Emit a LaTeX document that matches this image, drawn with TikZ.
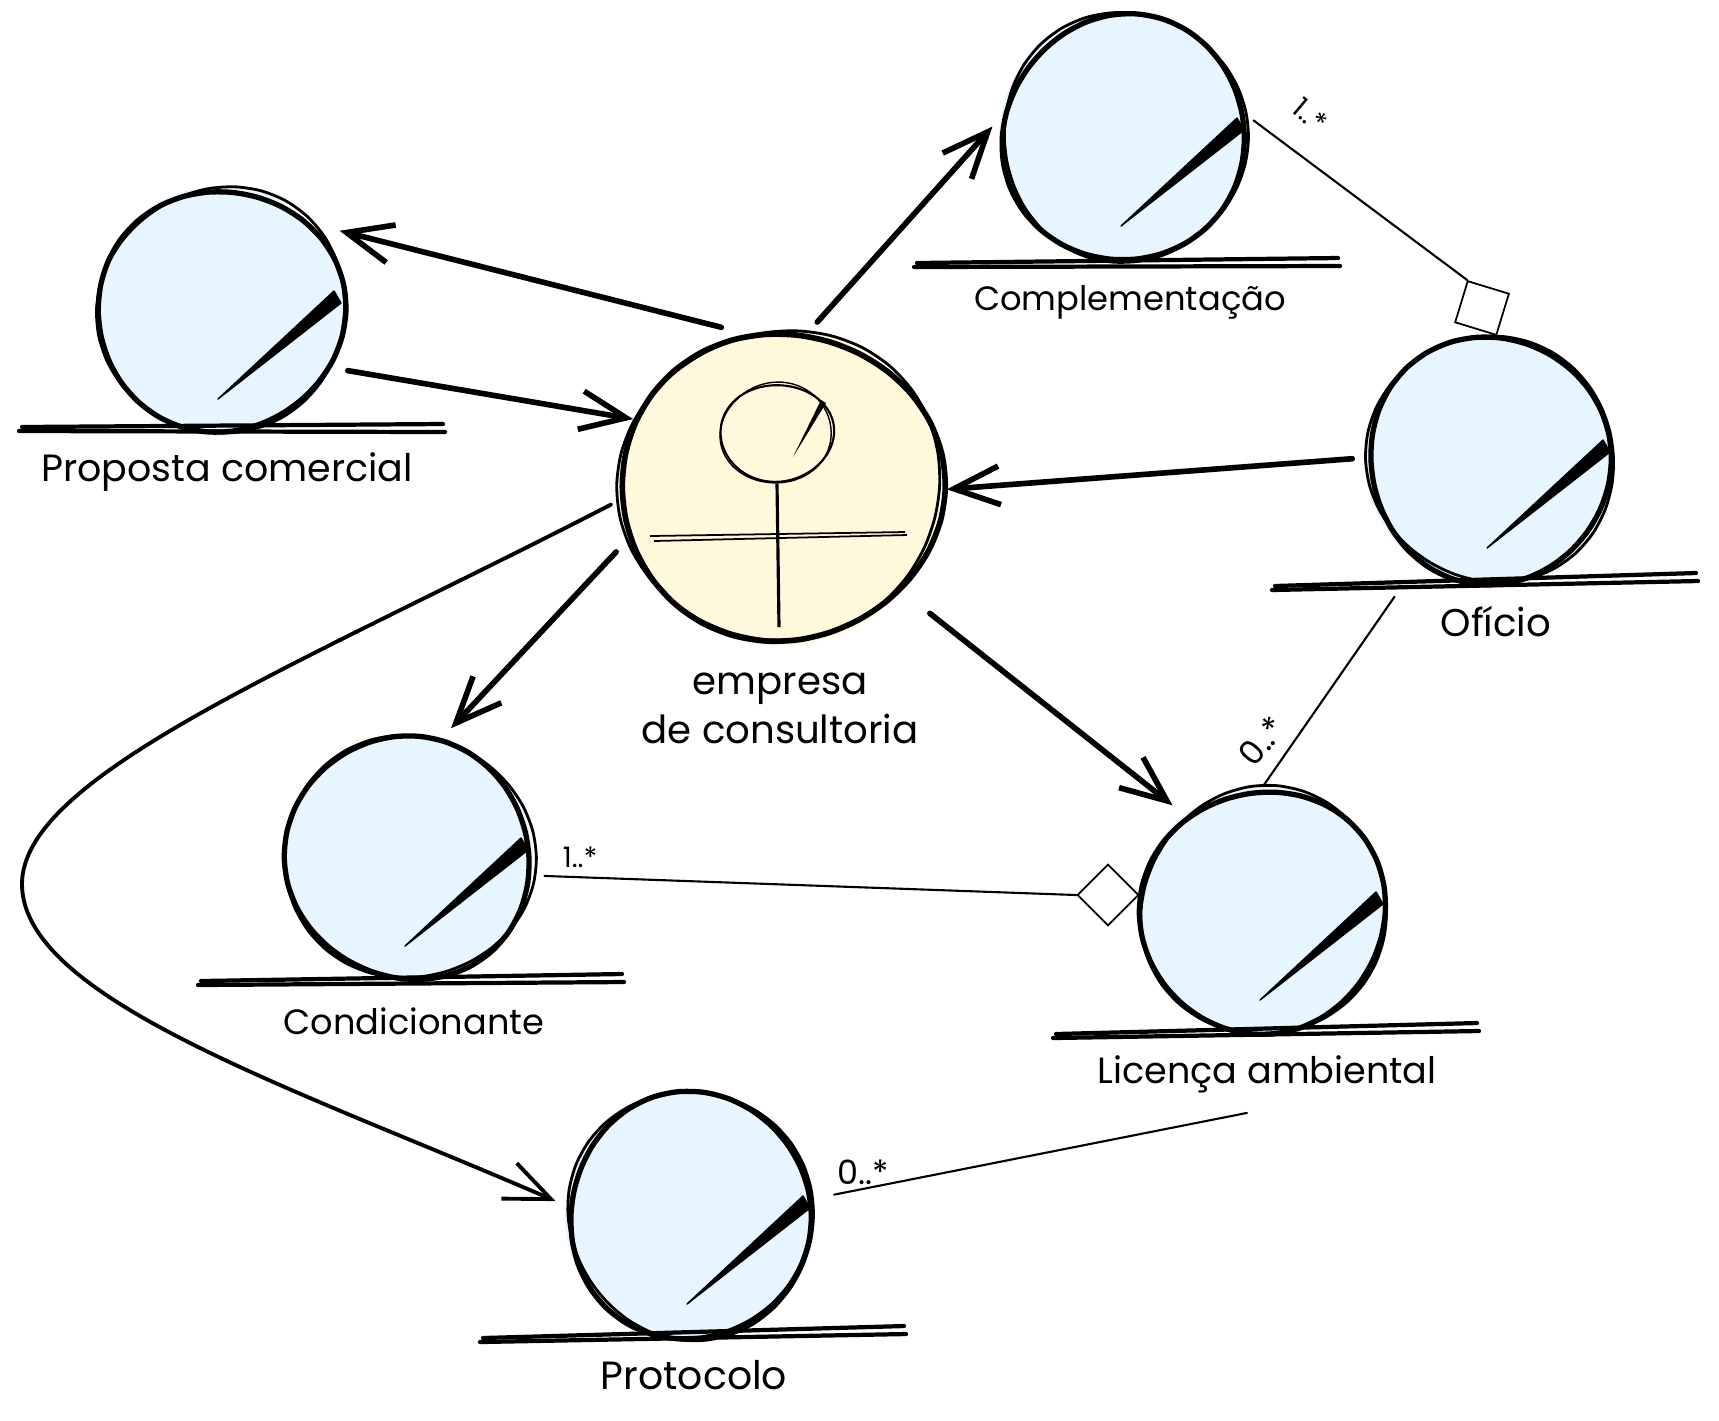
\documentclass[tikz,border=0pt]{standalone}
\usepackage{fontspec}
\setmainfont{Poppins}
\usepackage{tikz}
\usetikzlibrary{arrows.meta}
\definecolor{entityblue}{HTML}{E7F5FF}
\definecolor{actoryellow}{HTML}{FFF9DB}
\tikzset{entitycircle/.style={circle,fill=entityblue,inner sep=0,minimum size=2.5cm},
    actorcircle/.style={circle,fill=actoryellow,inner sep=0,minimum size=3.16cm},
    flow/.style={-{Straight Barb[length=13pt,width=11pt]},line width=1.6pt,line cap=round,line join=round},
    association/.style={line width=0.6pt,line cap=round},
    aggregate/.style={draw,fill=white,rectangle,inner sep=0,minimum size=0.43cm,line width=0.5pt},
    entitylabel/.style={font=\fontsize{#1}{14}\selectfont,align=center,inner sep=1pt},
    multiplicity/.style={font=\fontsize{#1}{10}\selectfont,inner sep=0}
}
\newcommand{\sketchring}[6]
{
% args: (x, y, x radius, y radius, phase, line width)
    \draw [line width=#6] plot [smooth cycle,samples=30,domain=0:348]
        ({#1+#3*(1+0.016*cos(2*\x+(#5))+0.012*cos(3*\x+2*(#5)))*cos(\x)},
         {#2+#4*(1+0.016*cos(2*\x+(#5))+0.012*cos(3*\x+2*(#5)))*sin(\x)});
}
\newcommand{\entityobject}[7]
{
% args: (node name, x, y, phase, drop of ground line at left, at right, shift of ground line)
    \node (#1) at (#2,#3) [entitycircle] {};
    \sketchring{#2}{#3}{122}{122}{#4}{1.5pt}
    \sketchring{#2+1}{#3-1}{124}{123}{#4+70}{0.8pt}
    \filldraw [line width=0.4pt,line join=round] (#2-3,#3+88) -- (#2+113,#3-20) -- (#2+120,#3-8) -- cycle;
    \draw [line width=1.2pt,line cap=round] (#2+#7-207,#3+#5) -- (#2+#7+214,#3+#6);
    \draw [line width=1.2pt,line cap=round] (#2+#7-210,#3+#5+4) -- (#2+#7+216,#3+#6+8);
}
\begin{document}
\begin{tikzpicture}[x=0.01cm,y=-0.01cm]
\useasboundingbox (0,0) rectangle (1719,1420);

% entities

\entityobject{proposta}{221}{311}{20}{116}{113}{8}
\entityobject{complementacao}{1124}{138}{120}{125}{120}{0}
\entityobject{oficio}{1490}{460}{200}{126}{113}{-8}
\entityobject{condicionante}{408}{858}{280}{123}{116}{0}
\entityobject{licenca}{1263}{912}{60}{122}{111}{0}
\entityobject{protocolo}{690}{1216}{160}{122}{110}{0}

% actor

\node (empresa) at (782,487) [actorcircle] {};
\sketchring{782}{487}{159}{156}{10}{1.6pt}
\sketchring{780}{485}{161}{155}{80}{0.8pt}
\node (head) at (777,433) [circle,inner sep=0,minimum size=1cm] {};
\sketchring{777}{433}{56}{49}{30}{0.6pt}
\sketchring{776}{433}{56}{50}{120}{0.4pt}
\fill (793,457) -- (821,400) -- (826,403) -- cycle;
\draw [line width=0.9pt] (head.south) -- (779,627);
\draw [line width=0.5pt] (650,536) -- (905,532);
\draw [line width=0.5pt] (654,541) -- (907,535);

% labels

\node (lblproposta) at (227,472) [entitylabel=10.8] {Proposta comercial};
\node (lblempresa) at (780,708) [entitylabel=11] {empresa\\de consultoria};
\node (lblcomplementacao) at (1130,302) [entitylabel=9.6] {Complementação};
\node (lbloficio) at (1496,622) [entitylabel=11] {Ofício};
\node (lblcondicionante) at (414,1021) [entitylabel=10] {Condicionante};
\node (lbllicenca) at (1267,1074) [entitylabel=10.4] {Licença ambiental};
\node (lblprotocolo) at (694,1375) [entitylabel=11.2] {Protocolo};

% flows

\draw [flow,shorten <=0.23cm,shorten >=0.29cm] (empresa.104) -- (proposta.44);
\draw [flow,shorten <=0.15cm,shorten >=0.05cm] (proposta.-27) -- (empresa.155);
\draw [flow,shorten <=0.115cm,shorten >=0.11cm] (empresa.80) -- (complementacao.171);
\draw [flow,shorten <=0.12cm,shorten >=0.06cm] (oficio.179) -- (empresa.-1);
\draw [flow,shorten <=0.217cm,shorten >=0.122cm] (empresa.198) -- (condicionante.74);
\draw [flow,shorten <=0.357cm,shorten >=0.144cm] (empresa.-41) -- (licenca.129);
\coordinate (bend) at (22,884);
\draw [line width=1.1pt,line cap=round,shorten <=0.14cm] (empresa.184) .. controls (300,665) and (22,775) .. (bend);
\draw [flow,line width=1.1pt,shorten >=0.1cm] (bend) .. controls (22,1000) and (300,1090) .. (protocolo.175);

% associations

\node (aggcomplementacao) at (1482,308) [aggregate,rotate=-17] {};
\node (agglicenca) at (1108,895) [aggregate,rotate=45] {};
\draw [association,shorten <=0.07cm] (complementacao.10) -- (aggcomplementacao.north west);
\draw [association,shorten <=0.12cm] (condicionante.-8) -- (agglicenca.north west);
\draw [association,shorten <=0.41cm] (oficio.235) -- (licenca.north);
\draw [association,shorten <=0.2cm] (protocolo.8) -- ([shift={(-20,16)}]lbllicenca.south);

\node (mulcomplementacao) at (1310,115) [multiplicity=8,rotate=-40] {1..*};
\node (muloficio) at (1262,741) [multiplicity=9.5,rotate=50] {0..*};
\node (mulcondicionante) at (580,857) [multiplicity=8] {1..*};
\node (mulprotocolo) at (863,1172) [multiplicity=9.5] {0..*};

\end{tikzpicture}
\end{document}
